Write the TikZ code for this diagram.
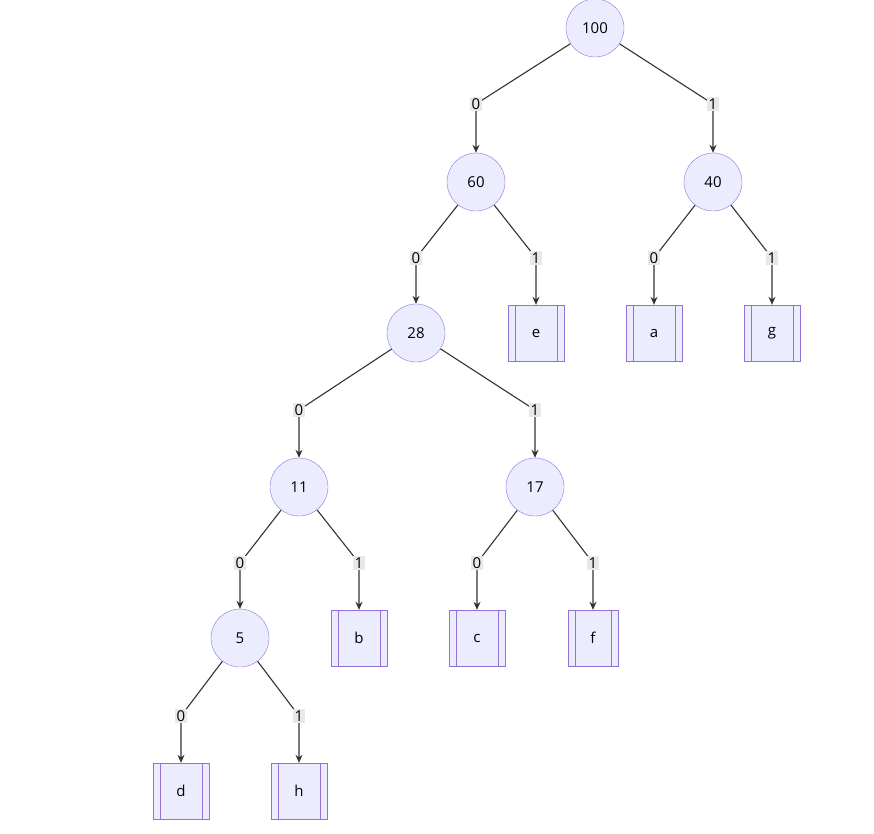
\documentclass[tikz,border=0pt]{standalone}
\usepackage{fontspec}
\setmainfont{Open Sans}
\usetikzlibrary{arrows.meta}
\definecolor{nfill}{HTML}{ECECFF}
\definecolor{nline}{HTML}{9370DB}
\definecolor{eline}{HTML}{333333}
\tikzset{
  sum/.style={circle,draw=nline,fill=nfill,minimum size=58pt,inner sep=0pt,font=\fontsize{15}{16}\selectfont},
  leaf/.style={rectangle,draw=nline,fill=nfill,minimum width=56pt,minimum height=56pt,inner sep=0pt,
    font=\fontsize{15}{16}\selectfont,
    path picture={\draw[nline] ([xshift=7pt]path picture bounding box.north west) -- ([xshift=7pt]path picture bounding box.south west);
      \draw[nline] ([xshift=-7pt]path picture bounding box.north east) -- ([xshift=-7pt]path picture bounding box.south east);}},
  bit/.style={fill=black!9,inner sep=1.5pt,font=\fontsize{15}{16}\selectfont},
  edge/.style={draw=eline,line width=1.1pt,-{Stealth[length=8pt,width=7pt]}}
}
\begin{document}
\begin{tikzpicture}[x=1pt,y=-1pt]
    \useasboundingbox[fill=white] (0,0) rectangle (874,833);
    \node[sum] (n100) at (595,28) {100};
    \node[sum] (n60) at (476,182) {60};
    \node[sum] (n40) at (713,182) {40};
    \node[sum] (n28) at (416,333) {28};
    \node[leaf] (e) at (536,333) {e};
    \node[leaf] (a) at (654,333) {a};
    \node[leaf] (g) at (772,333) {g};
    \node[sum] (n11) at (299,487) {11};
    \node[sum] (n17) at (535,487) {17};
    \node[sum] (n5) at (240,638) {5};
    \node[leaf] (b) at (359,638) {b};
    \node[leaf] (c) at (477,638) {c};
    \node[leaf,minimum width=50pt] (f) at (593,638) {f};
    \node[leaf] (d) at (181,791) {d};
    \node[leaf] (h) at (299,791) {h};
    % edges: parent, child, bit, bend height
    \foreach \p/\c/\b/\y in {n100/n60/0/104, n100/n40/1/104,
        n60/n28/0/258, n60/e/1/258, n40/a/0/258, n40/g/1/258,
        n28/n11/0/410, n28/n17/1/410,
        n11/n5/0/563, n11/b/1/563, n17/c/0/563, n17/f/1/563,
        n5/d/0/716, n5/h/1/716} {
      \coordinate (k\c) at (\c |- 0,\y);
      \draw[edge] (\p) -- (k\c) -- (\c);
      \node[bit] (l\c) at (k\c) {\b};
    }
\end{tikzpicture}
\end{document}
